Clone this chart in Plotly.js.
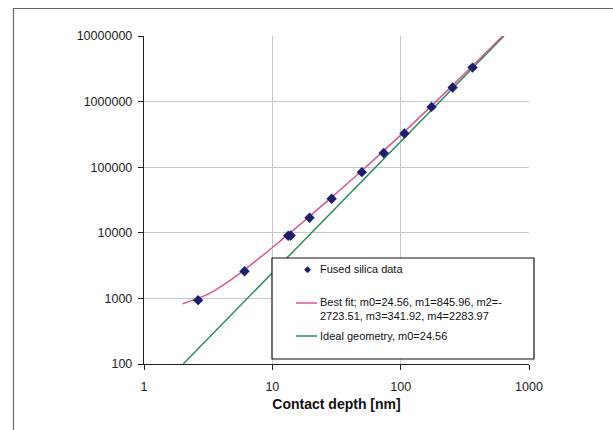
<!DOCTYPE html>
<html>
<head>
<meta charset="utf-8">
<script src="https://cdn.plot.ly/plotly-3.0.1.min.js"></script>
<style>
html,body{margin:0;padding:0;background:#fff;}
#chart{width:613px;height:430px;}
</style>
</head>
<body>
<div id="chart"></div>
<script>
// Measured data (contact depth in nm, projected area)
var dataDepth = [2.64, 6.07, 13.3, 13.9, 19.5, 29.0, 49.8, 73.8, 107, 174, 254, 363];
var dataArea  = [940, 2590, 9000, 9100, 17000, 33000, 84000, 165000, 327000, 830000, 1640000, 3300000];

// Best-fit curve
var fitDepth = [2, 3, 4, 6, 10, 15, 20, 30, 50, 100, 200, 400, 623];
var fitArea  = [830, 1110, 1530, 2680, 5960, 11500, 18600, 36900, 89100, 308000, 1119000, 4220000, 10000000];

// Ideal geometry line
var idealDepth = [2.02, 10, 100, 638];
var idealArea  = [100, 2456, 245600, 10000000];

// Tick labels
var xTickVals = [1, 10, 100, 1000];
var xTickText = ["1", "10", "100", "1000"];
var yTickVals = [100, 1000, 10000, 100000, 1000000, 10000000];
var yTickText = ["100", "1000", "10000", "100000", "1000000", "10000000"];

// Legend labels
var legendNames = [
  "Fused silica data",
  "Best fit; m0=24.56, m1=845.96, m2=-<br>2723.51, m3=341.92, m4=2283.97",
  "Ideal geometry, m0=24.56"
];

var colPink = "#d8559c";
var colGreen = "#2b8c5c";
var colMarker = "#1e1e6e";

var traces = [
  {x: idealDepth, y: idealArea, type: "scatter", mode: "lines",
   line: {color: colGreen, width: 1.5}, showlegend: false, hoverinfo: "skip"},
  {x: fitDepth, y: fitArea, type: "scatter", mode: "lines",
   line: {color: colPink, width: 1.5, shape: "spline", smoothing: 0.8}, showlegend: false, hoverinfo: "skip"},
  {x: dataDepth, y: dataArea, type: "scatter", mode: "markers",
   marker: {symbol: "diamond", size: 8, color: colMarker}, showlegend: false}
];

// pixel -> paper helpers (plot area: x 144..529, y 36..364)
function px(x){ return (x - 144) / 385; }
function py(y){ return (364 - y) / 328; }

var shapes = [
  // outer frame (top and left)
  {type: "line", xref: "paper", yref: "paper", x0: px(13), x1: px(613), y0: py(8.5), y1: py(8.5),
   line: {color: "#666", width: 1.2}},
  {type: "line", xref: "paper", yref: "paper", x0: px(13.5), x1: px(13.5), y0: py(8), y1: py(431),
   line: {color: "#666", width: 1.2}},
  // legend box
  {type: "rect", xref: "paper", yref: "paper", x0: px(272), x1: px(534), y0: py(359), y1: py(258),
   fillcolor: "#ffffff", line: {color: "#111", width: 1.2}, layer: "above"},
  // legend line samples
  {type: "line", xref: "paper", yref: "paper", x0: px(296), x1: px(317), y0: py(303), y1: py(303),
   line: {color: colPink, width: 1.5}, layer: "above"},
  {type: "line", xref: "paper", yref: "paper", x0: px(296), x1: px(317), y0: py(336), y1: py(336),
   line: {color: colGreen, width: 1.5}, layer: "above"}
];

var legFont = {family: "Liberation Sans, Arial, sans-serif", size: 11, color: "#111"};
var annotations = [
  {xref: "paper", yref: "paper", x: px(307), y: py(269), text: "◆", showarrow: false,
   font: {family: "DejaVu Sans", size: 9, color: colMarker}, xanchor: "center", yanchor: "middle"},
  {xref: "paper", yref: "paper", x: px(318), y: py(269), text: legendNames[0], showarrow: false,
   font: legFont, xanchor: "left", yanchor: "middle", align: "left"},
  {xref: "paper", yref: "paper", x: px(318), y: py(308.5), text: legendNames[1], showarrow: false,
   font: legFont, xanchor: "left", yanchor: "middle", align: "left"},
  {xref: "paper", yref: "paper", x: px(318), y: py(336), text: legendNames[2], showarrow: false,
   font: legFont, xanchor: "left", yanchor: "middle", align: "left"}
];

var layout = {
  width: 613, height: 430,
  margin: {l: 144, r: 84, t: 36, b: 66},
  paper_bgcolor: "#ffffff", plot_bgcolor: "#ffffff",
  font: {family: "Liberation Sans, Arial, sans-serif", size: 12.5, color: "#222"},
  showlegend: false,
  xaxis: {
    type: "log", range: [0, 3],
    tickvals: xTickVals, ticktext: xTickText,
    showgrid: true, gridcolor: "#c8c8c8", gridwidth: 1,
    showline: true, linecolor: "#222", linewidth: 1.2,
    ticks: "outside", ticklen: 5, tickcolor: "#222",
    ticklabelstandoff: 6,
    zeroline: false,
    title: {text: "Contact depth [nm]", font: {family: "Liberation Sans, Arial, sans-serif", size: 14, color: "#111", weight: "bold"}, standoff: 6}
  },
  yaxis: {
    type: "log", range: [2, 7],
    tickvals: yTickVals, ticktext: yTickText,
    showgrid: true, gridcolor: "#c8c8c8", gridwidth: 1,
    showline: true, linecolor: "#222", linewidth: 1.2,
    ticks: "outside", ticklen: 5, tickcolor: "#222",
    ticklabelstandoff: 3,
    zeroline: false
  },
  shapes: shapes,
  annotations: annotations
};

Plotly.newPlot("chart", traces, layout, {displayModeBar: false, staticPlot: true});
</script>
</body>
</html>
